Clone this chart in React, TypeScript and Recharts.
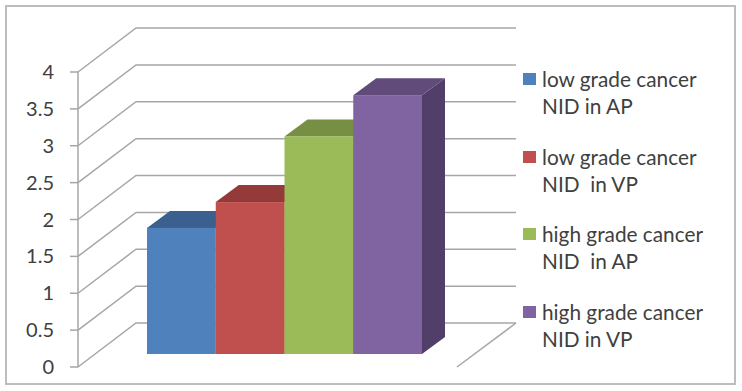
import React from "react";
import { ComposedChart, Bar, XAxis, YAxis, CartesianGrid, Legend } from "recharts";

const categories = ["NID"];
const seriesKeys = ["lowAP", "lowVP", "highAP", "highVP"];
const seriesNames = [
  "low grade cancer\nNID in AP",
  "low grade cancer\nNID  in VP",
  "high grade cancer\nNID  in AP",
  "high grade cancer\nNID in VP",
];
const seriesValues = [1.71, 2.06, 2.95, 3.51];
const frontColors = ["#4F81BD", "#C0504D", "#9BBB59", "#8064A2"];
const topColors = ["#3B5F8E", "#943A38", "#768F43", "#604B7A"];
const sideColors = ["#35557F", "#843331", "#697F3B", "#513F69"];
const yTicks = [0, 0.5, 1, 1.5, 2, 2.5, 3, 3.5, 4];

const DX = 23;
const DY = 17;
const LIFT = 13;
const BACK_X = 58;
const BACK_Y = 44;
const GRID = "#A6A6A6";
const TEXT = "#404040";
const FONT = "Lato, Carlito, sans-serif";

const chartData = categories.map((c) => {
  const row: Record<string, string | number> = { category: c };
  seriesKeys.forEach((k, i) => {
    row[k] = seriesValues[i];
  });
  return row;
});

const makeShape = (i: number) => (props: any) => {
  const { x, y, width, height } = props;
  const top = y - LIFT;
  const bottom = top + height;
  const right = x + width;
  return (
    <g>
      <polygon
        points={`${right},${top} ${right + DX},${top - DY} ${right + DX},${bottom - DY} ${right},${bottom}`}
        fill={sideColors[i]}
      />
      <polygon
        points={`${x},${top} ${x + DX},${top - DY} ${right + DX},${top - DY} ${right},${top}`}
        fill={topColors[i]}
      />
      <rect x={x} y={top} width={width} height={height} fill={frontColors[i]} />
    </g>
  );
};

const gridLine = (props: any) => {
  const { x1, x2, y1, index } = props;
  const isFloor = Math.abs(y1 - 367) < 1;
  return (
    <g key={`grid-${index}-${y1}`}>
      <polyline
        points={`${x1},${y1} ${x1 + BACK_X},${y1 - BACK_Y} ${x2 + BACK_X + 1},${y1 - BACK_Y}`}
        fill="none"
        stroke={GRID}
        strokeWidth={1.5}
      />
      {isFloor && (
        <polyline
          points={`${x2},${y1} ${x2 + BACK_X + 1},${y1 - BACK_Y}`}
          fill="none"
          stroke={GRID}
          strokeWidth={1.5}
        />
      )}
    </g>
  );
};

const legendContent = () => (
  <div style={{ position: "relative", width: 200, height: 300, fontFamily: FONT, color: TEXT }}>
    {seriesNames.map((name, i) => (
      <div key={name} style={{ position: "absolute", left: 0, top: i * 77.6 }}>
        <div
          style={{
            position: "absolute",
            left: 0,
            top: 5,
            width: 13,
            height: 12,
            background: frontColors[i],
          }}
        />
        <div
          style={{
            position: "absolute",
            left: 19,
            top: -3,
            whiteSpace: "pre",
            fontSize: 20.8,
            lineHeight: "27px",
          }}
        >
          {name}
        </div>
      </div>
    ))}
  </div>
);

export default function App() {
  return (
    <div style={{ position: "absolute", left: 0, top: 0, width: 742, height: 391, background: "#fff" }}>
      <div
        style={{
          position: "absolute",
          left: 5,
          top: 5,
          width: 731,
          height: 380,
          boxSizing: "border-box",
          border: "2px solid #BDBDBD",
        }}
      />
      <ComposedChart
        width={742}
        height={391}
        data={chartData}
        margin={{ top: 72, right: 285, bottom: 24, left: 0 }}
        barGap={0}
        barCategoryGap={0}
        style={{ position: "absolute", left: 0, top: 0 }}
      >
        <CartesianGrid vertical={false} horizontal={gridLine} />
        <XAxis
          dataKey="category"
          tick={false}
          tickLine={false}
          height={0}
          padding={{ left: 34, right: 0 }}
          axisLine={{ stroke: GRID, strokeWidth: 1.5 }}
        />
        <YAxis
          type="number"
          domain={[0, 4]}
          ticks={yTicks}
          width={78}
          interval={0}
          tickSize={8}
          tickMargin={16}
          tick={{ fill: TEXT, fontSize: 20, fontFamily: FONT }}
          tickLine={{ stroke: GRID, strokeWidth: 1.5 }}
          axisLine={{ stroke: GRID, strokeWidth: 1.5 }}
        />
        <Legend
          layout="vertical"
          align="center"
          verticalAlign="middle"
          content={legendContent}
          wrapperStyle={{ position: "absolute", left: 523, top: 68, width: 200, height: 300 }}
        />
        {seriesKeys.map((k, i) => (
          <Bar
            key={k}
            dataKey={k}
            name={seriesNames[i]}
            barSize={68.75}
            fill={frontColors[i]}
            shape={makeShape(i)}
            isAnimationActive={false}
          />
        ))}
      </ComposedChart>
    </div>
  );
}
